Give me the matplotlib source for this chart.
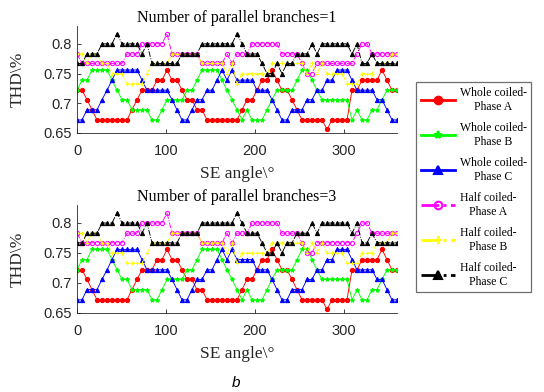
import numpy as np
import matplotlib
matplotlib.use('Agg')
import matplotlib.pyplot as plt
from matplotlib.lines import Line2D

# SE angle grid (65 samples over 0..360 deg)
angle = np.linspace(0, 360, 65)

# THD values (both subplots show the same curves)
whole_a = [0.722, 0.722, 0.706, 0.689, 0.672, 0.672, 0.672, 0.672, 0.672, 0.672,
           0.672, 0.689, 0.706, 0.722, 0.722, 0.722, 0.739, 0.739, 0.756, 0.739,
           0.739, 0.722, 0.706, 0.706, 0.689, 0.689, 0.672, 0.672, 0.672, 0.672,
           0.672, 0.672, 0.672, 0.689, 0.706, 0.706, 0.722, 0.739, 0.739, 0.756,
           0.739, 0.722, 0.722, 0.706, 0.689, 0.672, 0.672, 0.672, 0.672, 0.672,
           0.656, 0.672, 0.672, 0.672, 0.672, 0.722, 0.722, 0.739, 0.739, 0.739,
           0.739, 0.756, 0.739, 0.722, 0.722]
whole_b = [0.722, 0.739, 0.739, 0.756, 0.756, 0.756, 0.756, 0.739, 0.722, 0.706,
           0.706, 0.689, 0.689, 0.689, 0.689, 0.672, 0.672, 0.689, 0.706, 0.706,
           0.706, 0.706, 0.722, 0.722, 0.739, 0.756, 0.756, 0.756, 0.756, 0.739,
           0.722, 0.706, 0.689, 0.672, 0.689, 0.672, 0.672, 0.672, 0.689, 0.706,
           0.722, 0.722, 0.722, 0.722, 0.739, 0.756, 0.756, 0.739, 0.722, 0.706,
           0.706, 0.706, 0.706, 0.706, 0.706, 0.672, 0.689, 0.672, 0.672, 0.689,
           0.689, 0.706, 0.722, 0.722, 0.722]
whole_c = [0.672, 0.672, 0.689, 0.689, 0.689, 0.706, 0.722, 0.739, 0.756, 0.756,
           0.756, 0.756, 0.756, 0.739, 0.722, 0.722, 0.722, 0.722, 0.722, 0.706,
           0.689, 0.672, 0.672, 0.689, 0.706, 0.706, 0.722, 0.722, 0.739, 0.756,
           0.739, 0.756, 0.739, 0.739, 0.739, 0.739, 0.722, 0.722, 0.722, 0.706,
           0.689, 0.672, 0.672, 0.689, 0.689, 0.689, 0.706, 0.706, 0.722, 0.722,
           0.739, 0.739, 0.756, 0.756, 0.756, 0.739, 0.722, 0.722, 0.722, 0.722,
           0.706, 0.706, 0.689, 0.672, 0.672]
half_a = [0.783, 0.767, 0.767, 0.767, 0.767, 0.767, 0.767, 0.767, 0.767, 0.767,
          0.783, 0.783, 0.783, 0.800, 0.800, 0.800, 0.800, 0.800, 0.817, 0.783,
          0.783, 0.783, 0.783, 0.783, 0.783, 0.767, 0.767, 0.767, 0.767, 0.767,
          0.783, 0.767, 0.783, 0.783, 0.783, 0.800, 0.800, 0.800, 0.800, 0.800,
          0.800, 0.783, 0.783, 0.783, 0.783, 0.767, 0.750, 0.750, 0.767, 0.767,
          0.767, 0.767, 0.767, 0.767, 0.767, 0.767, 0.783, 0.800, 0.800, 0.783,
          0.783, 0.783, 0.783, 0.783, 0.783]
half_b = [0.783, 0.783, 0.767, 0.783, 0.783, 0.767, 0.767, 0.750, 0.750, 0.750,
          0.733, 0.733, 0.733, 0.733, 0.750, 0.767, 0.767, 0.767, 0.767, 0.783,
          0.783, 0.783, 0.783, 0.783, 0.783, 0.767, 0.767, 0.767, 0.767, 0.767,
          0.750, 0.767, 0.733, 0.750, 0.750, 0.750, 0.750, 0.750, 0.750, 0.767,
          0.767, 0.767, 0.767, 0.767, 0.767, 0.767, 0.750, 0.767, 0.750, 0.767,
          0.750, 0.750, 0.750, 0.750, 0.733, 0.733, 0.733, 0.750, 0.750, 0.750,
          0.767, 0.767, 0.767, 0.783, 0.783]
half_c = [0.767, 0.767, 0.783, 0.783, 0.783, 0.800, 0.800, 0.800, 0.817, 0.800,
          0.800, 0.800, 0.800, 0.783, 0.800, 0.767, 0.767, 0.767, 0.767, 0.767,
          0.767, 0.783, 0.783, 0.783, 0.783, 0.800, 0.800, 0.800, 0.800, 0.800,
          0.800, 0.800, 0.817, 0.800, 0.783, 0.783, 0.783, 0.767, 0.750, 0.750,
          0.767, 0.750, 0.767, 0.767, 0.783, 0.783, 0.783, 0.800, 0.783, 0.800,
          0.800, 0.800, 0.800, 0.800, 0.800, 0.783, 0.800, 0.767, 0.767, 0.783,
          0.767, 0.767, 0.767, 0.767, 0.767]

titles = ['Number of parallel branches=1', 'Number of parallel branches=3']
labels = ['Whole coiled-\nPhase A', 'Whole coiled-\nPhase B', 'Whole coiled-\nPhase C',
          'Half coiled-\nPhase A', 'Half coiled-\nPhase B', 'Half coiled-\nPhase C']

# (color, linestyle, marker, marker face)
styles = [('#ff0000', '-', 'o', '#ff0000'),
          ('#00ff00', '-', '*', '#00ff00'),
          ('#0000ff', '-', '^', '#0000ff'),
          ('#ff00ff', '-.', 'o', 'none'),
          ('#ffff00', '-.', '+', '#ffff00'),
          ('#000000', '-.', '^', '#000000')]

series = [whole_a, whole_b, whole_c, half_a, half_b, half_c]

serif = 'Liberation Serif'
sans = 'Liberation Sans'
axcol = '#262626'

fig = plt.figure(figsize=(5.44, 3.92), dpi=100)
W, H = 544, 392
ax_top = fig.add_axes([77 / W, 1 - 133 / H, 320 / W, 107 / H])
ax_bot = fig.add_axes([77 / W, 1 - 313 / H, 320 / W, 108 / H])

for ax, title in zip([ax_top, ax_bot], titles):
    for vals, (c, ls, m, mf) in zip(series, styles):
        ax.plot(angle, vals, color=c, linestyle=ls, linewidth=0.65,
                marker=m, markersize=3.0, markerfacecolor=mf, markeredgecolor=c,
                markeredgewidth=0.8)
    ax.set_xlim(0, 360)
    ax.set_ylim(0.65, 0.83)
    ax.set_xticks([0, 100, 200, 300])
    ax.set_yticks([0.65, 0.7, 0.75, 0.8])
    ax.set_yticklabels(['0.65', '0.7', '0.75', '0.8'])
    ax.tick_params(direction='in', length=3, width=0.6, colors=axcol,
                   labelsize=10.5, pad=4)
    ax.tick_params(axis='x', pad=8)
    for lab in ax.get_xticklabels() + ax.get_yticklabels():
        lab.set_fontfamily(sans)
    ax.spines['top'].set_visible(False)
    ax.spines['right'].set_visible(False)
    for s in ['left', 'bottom']:
        ax.spines[s].set_color(axcol)
        ax.spines[s].set_linewidth(0.6)
    ax.set_title(title, fontfamily=serif, fontsize=11.5, pad=3)
    ax.set_xlabel('SE angle\\°', fontfamily=serif, fontsize=12.5, color=axcol)
    ax.set_ylabel('THD\\%', fontfamily=serif, fontsize=12.5, color=axcol)
    ax.xaxis.set_label_coords(0.5, -0.31)
    ax.yaxis.set_label_coords(-0.16, 0.5)

handles = []
for c, ls, m, mf in styles:
    handles.append(Line2D([], [], color=c, linestyle=ls, linewidth=2,
                          marker=m, markersize=5.5, markerfacecolor=mf,
                          markeredgecolor=c, markeredgewidth=1.5))

leg = fig.legend(handles, labels, loc='upper left',
                 bbox_to_anchor=(416 / W, 1 - 82 / H), bbox_transform=fig.transFigure,
                 prop={'family': serif, 'size': 8.5}, frameon=True, fancybox=False,
                 edgecolor='#6e6e6e', framealpha=1, handlelength=2.9,
                 handletextpad=0.4, labelspacing=0.78, borderpad=0.4,
                 borderaxespad=0)
leg.get_frame().set_linewidth(0.9)
for t in leg.get_texts():
    t.set_multialignment('center')

fig.text(236 / W, 1 - 383 / H, 'b', fontfamily=sans, style='italic',
         fontsize=11, ha='center', va='center')

fig.savefig('out.png', dpi=100)
